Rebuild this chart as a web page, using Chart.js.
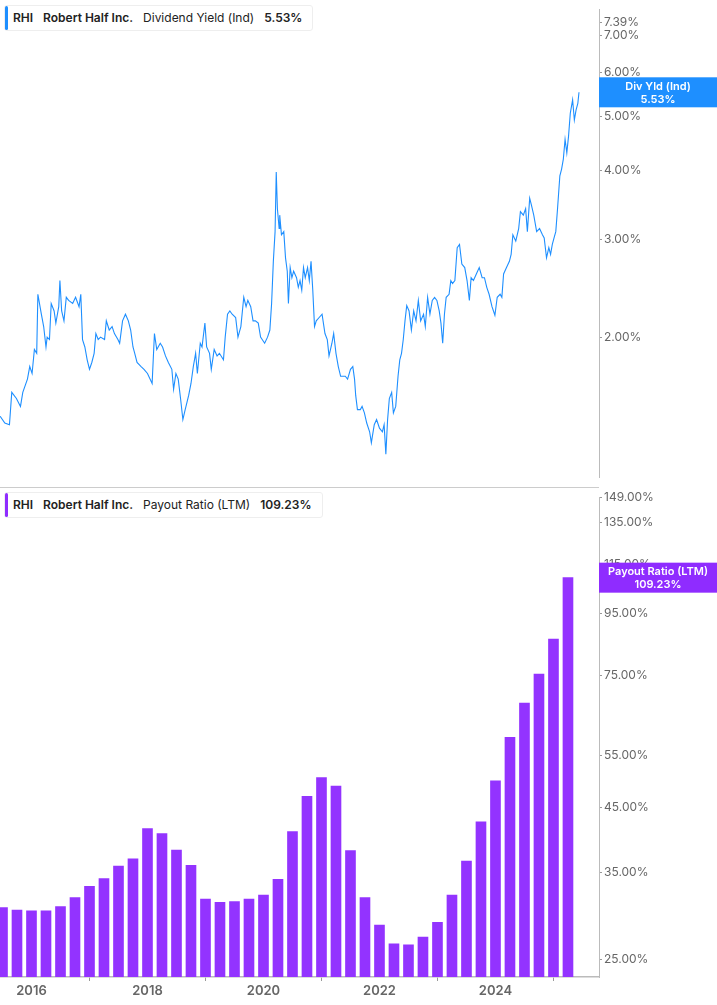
<!DOCTYPE html>
<html>
<head>
<meta charset="utf-8">
<script src="https://cdn.jsdelivr.net/npm/chart.js@4"></script>
<style>
  body { margin: 0; width: 717px; height: 1005px; background: #fff; font-family: Inter, "Noto Sans", sans-serif; overflow: hidden; }
  .panel { position: absolute; left: 0; width: 717px; }
  #top { top: 0; height: 487px; }
  #bot { top: 488px; height: 517px; }
  #sep { position: absolute; left: 0; top: 487px; width: 599px; height: 1px; background: #ccc; }
  .legend { position: absolute; left: 4px; height: 24px; background: #fff; border: 1px solid #eee; border-radius: 3px;
            font-size: 12px; line-height: 24px; padding: 0 10px 0 8px; color: #222; white-space: nowrap; }
  .legend:before { content: ""; position: absolute; left: 0; top: 0; bottom: 0; width: 3px; border-radius: 2px; }
  #leg1 { top: 5px; } #leg1:before { background: #1e8fff; }
  #leg2 { top: 492px; } #leg2:before { background: #8f2cff; }
  .legend b { font-weight: 600; }
  .legend span { margin-right: 10px; }
</style>
</head>
<body>
<div class="panel" id="top"><canvas id="divChart"></canvas></div>
<div class="panel" id="bot"><canvas id="payChart"></canvas></div>
<div id="sep"></div>
<div class="legend" id="leg1"><span><b>RHI</b></span><span><b>Robert Half Inc.</b></span><span>Dividend Yield (Ind)</span><b>5.53%</b></div>
<div class="legend" id="leg2"><span><b>RHI</b></span><span><b>Robert Half Inc.</b></span><span>Payout Ratio (LTM)</span><b>109.23%</b></div>
<script>
// dividend yield (%) vs decimal year
var yieldDates = [2015.46,2015.54,2015.62,2015.66,2015.74,2015.81,2015.85,2015.93,2015.97,2016.01,2016.05,2016.09,2016.11,2016.17,2016.21,2016.25,2016.27,2016.31,2016.34,2016.39,2016.42,2016.47,2016.49,2016.52,2016.56,2016.60,2016.64,2016.71,2016.76,2016.82,2016.85,2016.88,2016.92,2016.96,2017.00,2017.04,2017.08,2017.11,2017.15,2017.19,2017.26,2017.29,2017.34,2017.39,2017.43,2017.49,2017.52,2017.57,2017.62,2017.67,2017.71,2017.75,2017.78,2017.82,2017.89,2017.94,2018.00,2018.08,2018.12,2018.16,2018.22,2018.26,2018.31,2018.36,2018.42,2018.45,2018.49,2018.53,2018.57,2018.61,2018.65,2018.71,2018.75,2018.79,2018.83,2018.86,2018.91,2018.94,2018.99,2019.02,2019.07,2019.10,2019.15,2019.20,2019.24,2019.31,2019.34,2019.38,2019.42,2019.46,2019.52,2019.56,2019.61,2019.66,2019.70,2019.73,2019.78,2019.82,2019.86,2019.91,2019.95,2020.02,2020.07,2020.11,2020.14,2020.17,2020.20,2020.22,2020.24,2020.27,2020.28,2020.31,2020.35,2020.38,2020.41,2020.43,2020.46,2020.49,2020.52,2020.57,2020.60,2020.63,2020.66,2020.69,2020.72,2020.76,2020.79,2020.82,2020.85,2020.88,2020.91,2020.96,2021.01,2021.06,2021.10,2021.13,2021.18,2021.21,2021.25,2021.29,2021.33,2021.37,2021.41,2021.45,2021.50,2021.54,2021.57,2021.59,2021.62,2021.67,2021.70,2021.74,2021.78,2021.83,2021.86,2021.91,2021.95,2022.00,2022.05,2022.08,2022.11,2022.14,2022.17,2022.21,2022.24,2022.28,2022.32,2022.35,2022.38,2022.41,2022.44,2022.47,2022.51,2022.55,2022.59,2022.63,2022.67,2022.71,2022.76,2022.79,2022.83,2022.87,2022.91,2022.95,2022.99,2023.03,2023.06,2023.09,2023.12,2023.15,2023.20,2023.23,2023.26,2023.30,2023.34,2023.38,2023.42,2023.47,2023.51,2023.55,2023.58,2023.62,2023.67,2023.72,2023.77,2023.81,2023.85,2023.89,2023.94,2023.99,2024.03,2024.08,2024.11,2024.14,2024.19,2024.24,2024.27,2024.30,2024.35,2024.40,2024.43,2024.48,2024.52,2024.55,2024.59,2024.62,2024.66,2024.71,2024.76,2024.81,2024.84,2024.88,2024.92,2024.95,2024.98,2025.01,2025.04,2025.07,2025.11,2025.14,2025.17,2025.20,2025.23,2025.26,2025.29,2025.33,2025.36,2025.39,2025.42,2025.44];
var yieldValues = [1.44,1.40,1.39,1.59,1.55,1.50,1.59,1.68,1.77,1.72,1.90,1.87,2.39,2.20,2.09,1.92,2.00,1.98,2.30,2.23,2.12,2.27,2.53,2.23,2.14,2.36,2.33,2.30,2.36,2.27,2.39,1.98,1.92,1.82,1.75,1.80,1.87,2.03,1.98,2.00,1.98,2.14,2.06,2.09,2.03,1.98,1.95,2.14,2.20,2.14,2.06,1.92,1.87,1.80,1.77,1.75,1.72,1.65,2.03,1.90,1.95,1.92,1.85,1.80,1.75,1.61,1.72,1.68,1.55,1.42,1.48,1.57,1.65,1.77,1.87,1.72,1.95,1.92,2.12,1.92,1.87,1.75,1.90,1.85,1.87,1.82,2.00,2.20,2.23,2.20,2.17,2.00,2.09,2.36,2.27,2.33,2.27,2.14,2.14,2.12,2.00,1.95,2.00,2.06,2.30,2.74,3.10,3.97,3.41,3.14,3.32,3.06,3.10,2.78,2.63,2.30,2.67,2.56,2.63,2.56,2.46,2.53,2.43,2.67,2.56,2.67,2.53,2.74,2.43,2.09,2.14,2.17,2.20,2.03,1.98,1.85,1.95,2.03,1.87,1.77,1.70,1.70,1.70,1.68,1.75,1.77,1.68,1.57,1.48,1.48,1.50,1.46,1.40,1.35,1.29,1.39,1.42,1.37,1.35,1.39,1.23,1.42,1.55,1.59,1.46,1.50,1.70,1.82,1.87,1.98,2.14,2.28,2.23,2.06,2.23,2.14,2.33,2.14,2.20,2.09,2.36,2.20,2.33,2.36,2.33,2.23,2.12,1.95,2.20,2.36,2.39,2.53,2.50,2.53,2.90,2.94,2.71,2.67,2.53,2.33,2.56,2.53,2.60,2.67,2.56,2.56,2.46,2.39,2.27,2.19,2.36,2.39,2.36,2.60,2.67,2.74,2.82,3.06,2.98,3.14,3.37,3.32,3.41,3.10,3.56,3.46,3.32,3.10,3.14,3.06,3.02,2.78,2.90,2.82,2.94,3.02,3.10,3.41,3.91,4.02,4.19,4.55,4.30,4.61,5.07,5.36,4.93,5.14,5.28,5.53];

// payout ratio LTM (%) quarterly
var payoutDates = [2015.50,2015.75,2016.00,2016.25,2016.50,2016.75,2017.00,2017.25,2017.50,2017.75,2018.00,2018.25,2018.50,2018.75,2019.00,2019.25,2019.50,2019.75,2020.00,2020.25,2020.50,2020.75,2021.00,2021.25,2021.50,2021.75,2022.00,2022.25,2022.50,2022.75,2023.00,2023.25,2023.50,2023.75,2024.00,2024.25,2024.50,2024.75,2025.00,2025.25];
var payoutValues = [30.6,30.3,30.2,30.2,30.7,31.8,33.2,34.2,35.9,36.9,41.5,40.7,38.2,36.0,31.6,31.2,31.3,31.6,32.1,34.1,41.0,47.0,50.5,48.9,38.1,31.8,28.6,26.6,26.5,27.3,28.9,32.1,36.6,42.6,49.9,59.0,67.3,75.3,86.2,109.23];

var yieldTicks = [2, 3, 4, 5, 6, 7, 7.39];
var payoutTicks = [25, 35, 45, 55, 75, 95, 115, 135, 149];
var yearTicks = [2016, 2018, 2020, 2022, 2024];

var xMin = 2015.457, xMax = 2025.785;
var gray = '#666';
var axisFont = { family: 'Inter', size: 12 };

function fixTicks(list) {
    return function (scale) { scale.ticks = list.map(function (v) { return { value: v }; }); };
}

function tagPlugin(text1, text2, value, color) {
    return {
        id: 'tag',
        afterDraw: function (chart) {
            var c = chart.ctx, y = chart.scales.y.getPixelForValue(value), x = chart.chartArea.right;
            c.save();
            c.fillStyle = color;
            c.fillRect(x, y - 15, chart.width - x, 30);
            c.fillStyle = '#fff';
            c.font = '600 11px Inter';
            c.textAlign = 'center';
            c.textBaseline = 'middle';
            c.fillText(text1, x + (chart.width - x) / 2, y - 6);
            c.fillText(text2, x + (chart.width - x) / 2, y + 7);
            c.restore();
        }
    };
}

new Chart(document.getElementById('divChart'), {
    type: 'line',
    data: {
        datasets: [{
            data: yieldDates.map(function (d, i) { return { x: d, y: yieldValues[i] }; }),
            borderColor: '#1e8fff',
            borderWidth: 1.1,
            pointRadius: 0,
            tension: 0
        }]
    },
    options: {
        responsive: true, maintainAspectRatio: false, animation: false,
        layout: { padding: 0 },
        plugins: { legend: { display: false }, tooltip: { enabled: false } },
        scales: {
            x: { type: 'linear', min: xMin, max: xMax, display: false },
            y: {
                type: 'logarithmic', position: 'right', min: 1.115, max: 7.81,
                afterBuildTicks: fixTicks(yieldTicks),
                afterFit: function (s) { s.width = 118; },
                grid: { drawOnChartArea: false, tickLength: 3, color: '#999' },
                border: { color: '#bbb' },
                ticks: { color: gray, font: axisFont, padding: 2, callback: function (v) { return v.toFixed(2) + '%'; } }
            }
        }
    },
    plugins: [tagPlugin('Div Yld (Ind)', '5.53%', 5.53, '#1e8fff')]
});

new Chart(document.getElementById('payChart'), {
    type: 'bar',
    data: {
        datasets: [{
            data: payoutDates.map(function (d, i) { return { x: d, y: payoutValues[i] }; }),
            backgroundColor: '#9333ff',
            barThickness: 10
        }]
    },
    options: {
        responsive: true, maintainAspectRatio: false, animation: false,
        layout: { padding: 0 },
        plugins: { legend: { display: false }, tooltip: { enabled: false } },
        scales: {
            x: {
                type: 'linear', min: xMin, max: xMax, offset: false,
                afterBuildTicks: fixTicks(yearTicks),
                afterFit: function (s) { s.height = 28; },
                grid: { drawOnChartArea: false, tickLength: 4, color: '#999' },
                border: { color: '#bbb', width: 1.5 },
                ticks: { color: gray, font: { family: 'Inter', size: 13, weight: '600' }, padding: 2, callback: function (v) { return String(v); } }
            },
            y: {
                type: 'logarithmic', position: 'right', min: 23.4, max: 149,
                afterBuildTicks: fixTicks(payoutTicks),
                afterFit: function (s) { s.width = 118; },
                grid: { drawOnChartArea: false, tickLength: 3, color: '#999' },
                border: { color: '#bbb' },
                ticks: { color: gray, font: axisFont, padding: 2, callback: function (v) { return v.toFixed(2) + '%'; } }
            }
        }
    },
    plugins: [tagPlugin('Payout Ratio (LTM)', '109.23%', 109.23, '#8f2cff')]
});
</script>
</body>
</html>
